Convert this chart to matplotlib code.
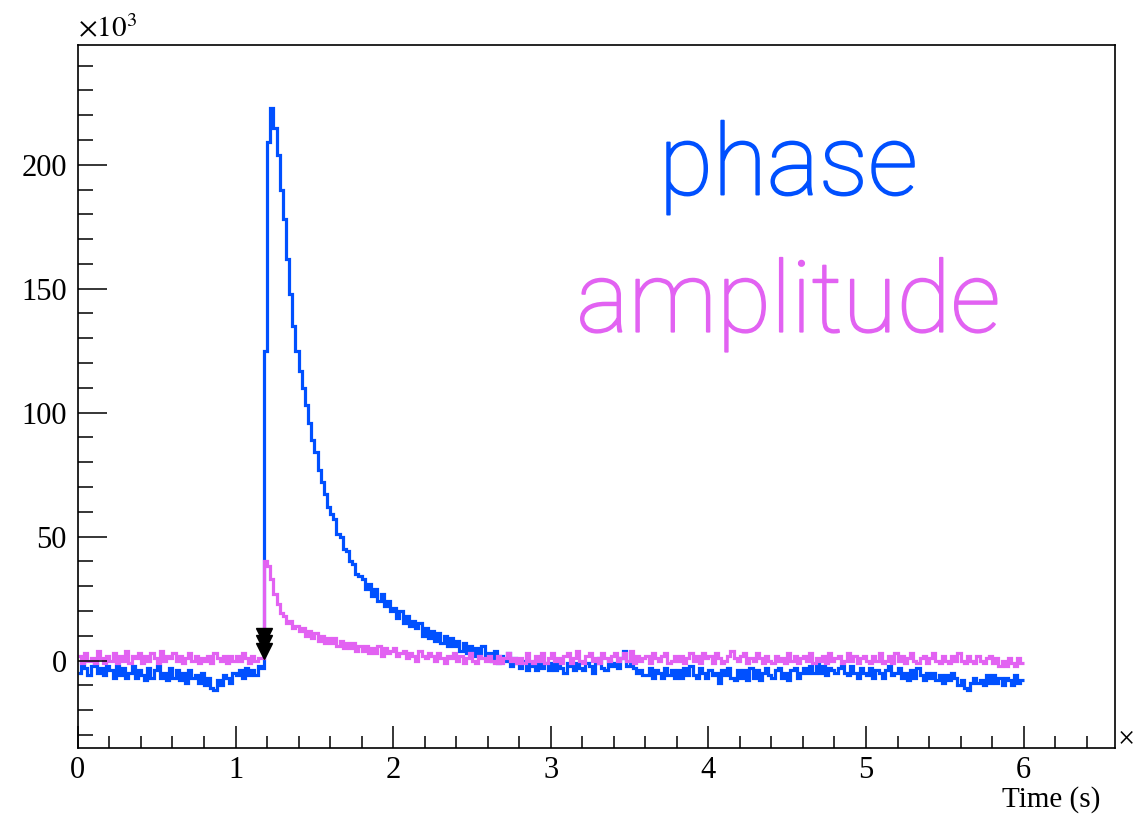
import numpy as np
import matplotlib
matplotlib.use("Agg")
import matplotlib.pyplot as plt
import matplotlib.patheffects as pe
from matplotlib.ticker import MultipleLocator

# 直方图分箱 (s)
t_start = 0.0
bin_width = 0.02

# phase 信号 (x10^3), 每行 0.2 s
phase = [
    -5, -1, -3, -6, -2, -1, -5, -3, -6, -2,
    -4, -7, -2, -6, -3, -7, -5, -2, -7, -4,
    -6, -8, -3, -7, -4, -2, -7, -5, -8, -3,
    -7, -4, -8, -5, -9, -4, -7, -6, -9, -5,
    -10, -7, -11, -12, -8, -10, -6, -7, -9, -5,
    -6, -4, -7, -3, -6, -4, -6, -2, -3, 125,
    209, 223, 215, 204, 190, 178, 162, 148, 135, 125,
    117, 110, 103, 96, 89, 84, 77, 72, 67, 62,
    59, 57, 51, 50, 45, 44, 40, 39, 35, 34,
    33, 29, 31, 26, 29, 24, 27, 22, 24, 20,
    21, 17, 20, 15, 18, 14, 16, 13, 15, 10,
    13, 9, 12, 8, 11, 7, 10, 6, 9, 6,
    8, 4, 7, 3, 6, 2, 5, 3, 6, 2,
    3, 0, 4, -1, 2, 0, 3, -2, 1, -1,
    -3, 0, -4, -1, -2, -4, 0, -3, -1, -4,
    -1, -4, 0, -3, -5, -1, -2, -4, -1, -3,
    -4, -1, -2, -5, -1, 1, -3, -4, 0, -2,
    -1, -3, 1, 4, -2, -1, -3, -5, -4, -6,
    -6, -3, -7, -4, -5, -7, -3, -6, -4, -7,
    -4, -7, -3, -6, -2, -6, -7, -3, -5, -7,
    -4, -6, -5, -9, -4, -6, -3, -7, -8, -4,
    -7, -4, -8, -3, -7, -4, -8, -5, -3, -6,
    -7, -4, -3, -7, -5, -8, -4, -3, -7, -5,
    -3, -5, -2, -5, -1, -5, -2, -6, -3, -4,
    -5, -3, -2, -5, -6, -2, -5, -7, -3, -5,
    -6, -3, -7, -4, -5, -7, -4, -2, -6, -5,
    -3, -7, -5, -8, -4, -7, -3, -6, -8, -5,
    -7, -5, -8, -6, -9, -6, -8, -5, -7, -10,
    -8, -11, -12, -9, -7, -9, -8, -10, -6, -9,
    -6, -9, -7, -10, -7, -8, -10, -6, -9, -8,
]

# amplitude 信号 (x10^3)
amplitude = [
    2, -1, 3, 0, 1, -1, 4, 1, -1, 2,
    0, 3, -1, 2, 0, 4, -1, 2, 1, 3,
    -1, 2, 0, 3, 1, -1, 4, 0, 2, 1,
    3, 0, 2, -1, 1, 3, 0, 2, -1, 1,
    0, 2, -1, 3, 1, 0, 2, -1, 2, 0,
    2, 0, 3, 1, -1, 2, 0, 1, 1, 40,
    38, 33, 27, 23, 19, 18, 15, 16, 13, 14,
    12, 13, 10, 12, 9, 11, 8, 10, 7, 9,
    7, 9, 6, 8, 5, 7, 5, 7, 4, 6,
    4, 6, 3, 5, 3, 6, 2, 5, 3, 4,
    5, 2, 3, 4, 1, 3, 2, 0, 4, 2,
    1, 3, 2, 0, 3, 1, -1, 2, 1, 3,
    0, 2, -1, 1, 3, 0, -1, 2, 1, 0,
    2, 0, -1, 2, -1, 1, 3, 0, 1, -1,
    1, -1, 3, 0, -1, 2, 0, 3, -1, 1,
    3, 0, 1, -1, 2, 3, -1, 1, 4, 0,
    -1, 2, 3, 0, 1, -1, 3, 1, 0, 2,
    3, 0, 1, 3, 0, 4, -1, 2, 0, 1,
    2, -1, 3, 1, 0, 2, 3, -1, 0, 2,
    0, 2, -1, 1, 3, 0, 2, -1, 3, 1,
    2, -1, 3, 1, -1, 0, 2, 4, 1, 0,
    2, 3, -1, 1, 0, 3, 1, -1, 2, 0,
    -1, 2, 0, 1, -1, 3, 0, 2, -1, 1,
    2, 0, 3, -1, 1, 0, 2, -1, 3, 0,
    1, 2, -1, 0, 3, 0, 2, -1, 1, 2,
    0, -1, 2, 0, 3, -1, 0, 2, -1, 3,
    0, 2, -1, 1, 3, 0, -1, 1, 2, -1,
    1, 3, 0, -1, 2, 0, -1, 2, 0, 3,
    0, -1, 2, 0, -1, 2, 0, -1, 1, 2,
    -1, 1, -2, 0, -2, 1, -1, -2, 1, -1,
]

# 触发标记
trigger_t = [1.18, 1.18, 1.18]
trigger_y = [10, 7, 4]

blue = '#0050ff'
pink = '#e262f2'

plt.rcParams['mathtext.fontset'] = 'stix'
serif = ['Liberation Serif', 'DejaVu Serif']
sans = ['Roboto', 'DejaVu Sans']

fig = plt.figure(figsize=(11.46, 8.14), dpi=100)
ax = fig.add_axes([0.068, 0.081, 0.905, 0.864])

edges = t_start + bin_width * np.arange(len(phase) + 1)
ax.stairs(phase, edges, baseline=None, color=blue, lw=2.3)
ax.stairs(amplitude, edges, baseline=None, color=pink, lw=2.3)
ax.plot(trigger_t, trigger_y, ls='none', marker='v', ms=12, color='black')

ax.set_xlim(0, 6.58)
ax.set_ylim(-35.3, 248.4)

ax.xaxis.set_major_locator(MultipleLocator(1))
ax.xaxis.set_minor_locator(MultipleLocator(0.2))
ax.yaxis.set_major_locator(MultipleLocator(50))
ax.yaxis.set_minor_locator(MultipleLocator(10))
ax.tick_params(axis='both', which='both', direction='in', width=1.1,
               top=False, right=False, labelsize=22)
ax.tick_params(axis='y', which='major', length=21, pad=8)
ax.tick_params(axis='y', which='minor', length=11)
ax.tick_params(axis='x', which='major', length=16, pad=6)
ax.tick_params(axis='x', which='minor', length=9)
for lab in ax.get_xticklabels() + ax.get_yticklabels():
    lab.set_family(serif)
for sp in ax.spines.values():
    sp.set_linewidth(1.2)

ax.text(0.0, 1.002, r'$\times10^{3}$', transform=ax.transAxes,
        ha='left', va='bottom', fontsize=21)
ax.text(1.002, 0.012, '×', transform=ax.transAxes, ha='left', va='center',
        fontsize=22, family=serif)
fig.text(1100 / 1146, 0.018, 'Time (s)', ha='right', va='center',
         fontsize=21, family=serif)

# 细体字 + 少许描边, 接近原图字重
ax.text(0.685, 0.787, 'phase', transform=ax.transAxes, ha='center',
        va='baseline', fontsize=71, color=blue, family=sans, weight='light',
        path_effects=[pe.withStroke(linewidth=1.3, foreground=blue)])
ax.text(0.685, 0.592, 'amplitude', transform=ax.transAxes, ha='center',
        va='baseline', fontsize=71, color=pink, family=sans, weight='light',
        path_effects=[pe.withStroke(linewidth=1.3, foreground=pink)])

fig.savefig('out.png', dpi=100)
